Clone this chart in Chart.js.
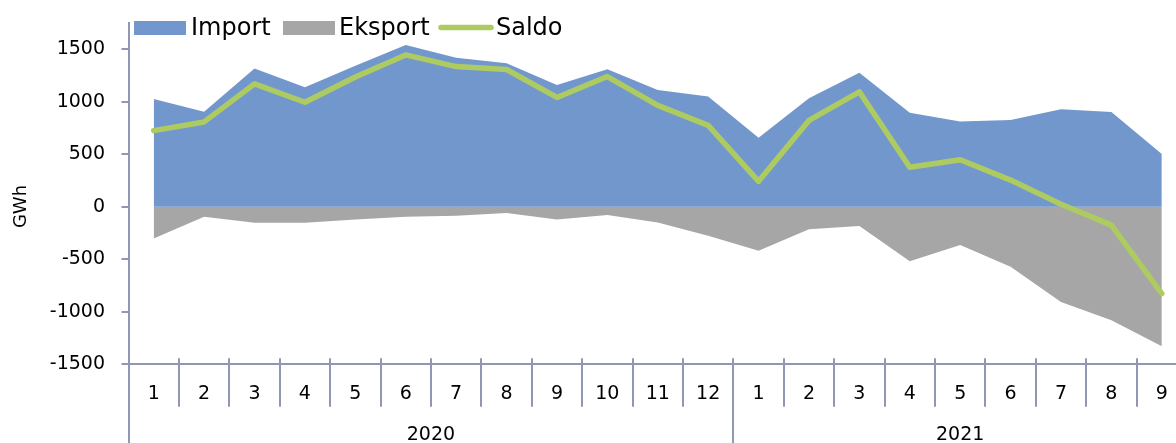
<!DOCTYPE html>
<html>
<head>
<meta charset="utf-8">
<script src="https://cdn.jsdelivr.net/npm/chart.js@4/dist/chart.umd.min.js"></script>
<style>
html,body{margin:0;padding:0;background:#fff;overflow:hidden}
#wrap{width:1176px;height:443px;overflow:hidden;position:relative}
canvas{display:block}
</style>
</head>
<body>
<div id="wrap"><canvas id="c" width="1188" height="443"></canvas></div>
<script>
// ---- data ----
const months = ['1','2','3','4','5','6','7','8','9','10','11','12','1','2','3','4','5','6','7','8','9'];
const years = ['2020', '2021'];
const yearSpans = [12, 9];
const importValues  = [1027, 906, 1316, 1138, 1342, 1540, 1420, 1367, 1160, 1310, 1112, 1049, 658, 1033, 1277, 896, 812, 826, 928, 903, 502];
const eksportValues = [-301, -95, -152, -152, -120, -95, -86, -60, -120, -79, -149, -275, -418, -213, -184, -518, -365, -572, -906, -1080, -1328];
const saldoValues   = [725, 808, 1170, 995, 1236, 1446, 1335, 1307, 1041, 1240, 966, 775, 242, 822, 1094, 377, 448, 254, 24, -175, -826];
const seriesNames = ['Import', 'Eksport', 'Saldo'];
const yAxisTitle = 'GWh';
const yTickValues = [-1500, -1000, -500, 0, 500, 1000, 1500];
const yMin = -1500, yMax = 1750;

// ---- style ----
const FONT = "'DejaVu Sans', Verdana, sans-serif";
const axisColor = '#9097B5';
const colImport = '#7297CD';
const colEksport = '#A6A6A6';
const colSaldo = '#ADCB60';

const overlay = {
  id: 'overlay',
  afterDraw(chart) {
    const ctx = chart.ctx;
    const xs = chart.scales.x;
    const area = chart.chartArea;
    const n = months.length;
    const half = (xs.getPixelForValue(1) - xs.getPixelForValue(0)) / 2;
    const bx = i => (i < n ? xs.getPixelForValue(i) - half : xs.getPixelForValue(n - 1) + half);
    const yearBounds = [0];
    yearSpans.forEach(s => yearBounds.push(yearBounds[yearBounds.length - 1] + s));
    const axisY = area.bottom;

    ctx.save();
    ctx.strokeStyle = axisColor;
    ctx.lineWidth = 2;
    for (let i = 0; i <= n; i++) {
      const x = Math.round(bx(i));
      const isYear = yearBounds.includes(i);
      ctx.beginPath();
      ctx.moveTo(x, axisY - 6);
      ctx.lineTo(x, isYear ? chart.height : axisY + 42.5);
      ctx.stroke();
    }
    // year labels
    ctx.fillStyle = '#000';
    ctx.font = '19px ' + FONT;
    ctx.textAlign = 'center';
    ctx.textBaseline = 'middle';
    years.forEach((yr, k) => {
      const cx = (bx(yearBounds[k]) + bx(yearBounds[k + 1])) / 2;
      ctx.fillText(yr, cx, 435);
    });
    // y axis title
    ctx.save();
    ctx.translate(21, 206.5);
    ctx.rotate(-Math.PI / 2);
    ctx.font = '18px ' + FONT;
    ctx.fillText(yAxisTitle, 0, 0);
    ctx.restore();

    // legend
    const ds = chart.data.datasets;
    ctx.font = '24px ' + FONT;
    ctx.textAlign = 'left';
    ctx.textBaseline = 'alphabetic';
    ctx.fillStyle = ds[0].backgroundColor;
    ctx.fillRect(134, 21, 52, 14);
    ctx.fillStyle = '#000';
    ctx.fillText(ds[0].label, 191, 35);
    ctx.fillStyle = ds[1].backgroundColor;
    ctx.fillRect(283, 21, 52, 14);
    ctx.fillStyle = '#000';
    ctx.fillText(ds[1].label, 339, 35);
    ctx.strokeStyle = ds[2].borderColor;
    ctx.lineWidth = 5.5;
    ctx.lineCap = 'round';
    ctx.beginPath();
    ctx.moveTo(441, 27.5);
    ctx.lineTo(491, 27.5);
    ctx.stroke();
    ctx.fillStyle = '#000';
    ctx.fillText(ds[2].label, 496, 35);
    ctx.restore();
  }
};

new Chart(document.getElementById('c'), {
  type: 'line',
  data: {
    labels: months,
    datasets: [
      {
        label: seriesNames[0],
        data: importValues,
        backgroundColor: colImport,
        borderColor: 'rgba(0,0,0,0)',
        borderWidth: 0,
        pointRadius: 0,
        fill: 'origin',
        tension: 0,
        order: 1
      },
      {
        label: seriesNames[1],
        data: eksportValues,
        backgroundColor: colEksport,
        borderColor: 'rgba(0,0,0,0)',
        borderWidth: 0,
        pointRadius: 0,
        fill: 'origin',
        tension: 0,
        order: 2
      },
      {
        label: seriesNames[2],
        data: saldoValues,
        borderColor: colSaldo,
        backgroundColor: colSaldo,
        borderWidth: 5.5,
        borderCapStyle: 'round',
        borderJoinStyle: 'round',
        pointRadius: 0,
        fill: false,
        tension: 0,
        order: 0
      }
    ]
  },
  options: {
    responsive: false,
    animation: false,
    devicePixelRatio: 1,
    layout: { padding: { top: 23, left: 0, right: 1, bottom: 0 } },
    plugins: {
      legend: { display: false },
      tooltip: { enabled: false },
      title: { display: false }
    },
    scales: {
      x: {
        type: 'category',
        offset: true,
        grid: { display: false, drawTicks: false },
        border: { display: true, color: axisColor, width: 2 },
        ticks: {
          font: { family: FONT, size: 19 },
          color: '#000',
          padding: 18,
          maxRotation: 0,
          autoSkip: false
        },
        afterFit(s) { s.height = 78.7; s.paddingLeft = 0; s.paddingRight = 0; }
      },
      y: {
        min: yMin,
        max: yMax,
        grid: { drawOnChartArea: false, drawTicks: true, tickLength: 7, color: axisColor, lineWidth: 2 },
        border: { display: true, color: axisColor, width: 2 },
        ticks: {
          font: { family: FONT, size: 19 },
          color: '#000',
          padding: 16.5,
          callback: v => String(v)
        },
        afterBuildTicks(s) { s.ticks = yTickValues.map(v => ({ value: v })); },
        afterFit(s) { s.width = 128.5; s.paddingTop = 0; s.paddingBottom = 0; }
      }
    }
  },
  plugins: [overlay]
});
</script>
</body>
</html>
